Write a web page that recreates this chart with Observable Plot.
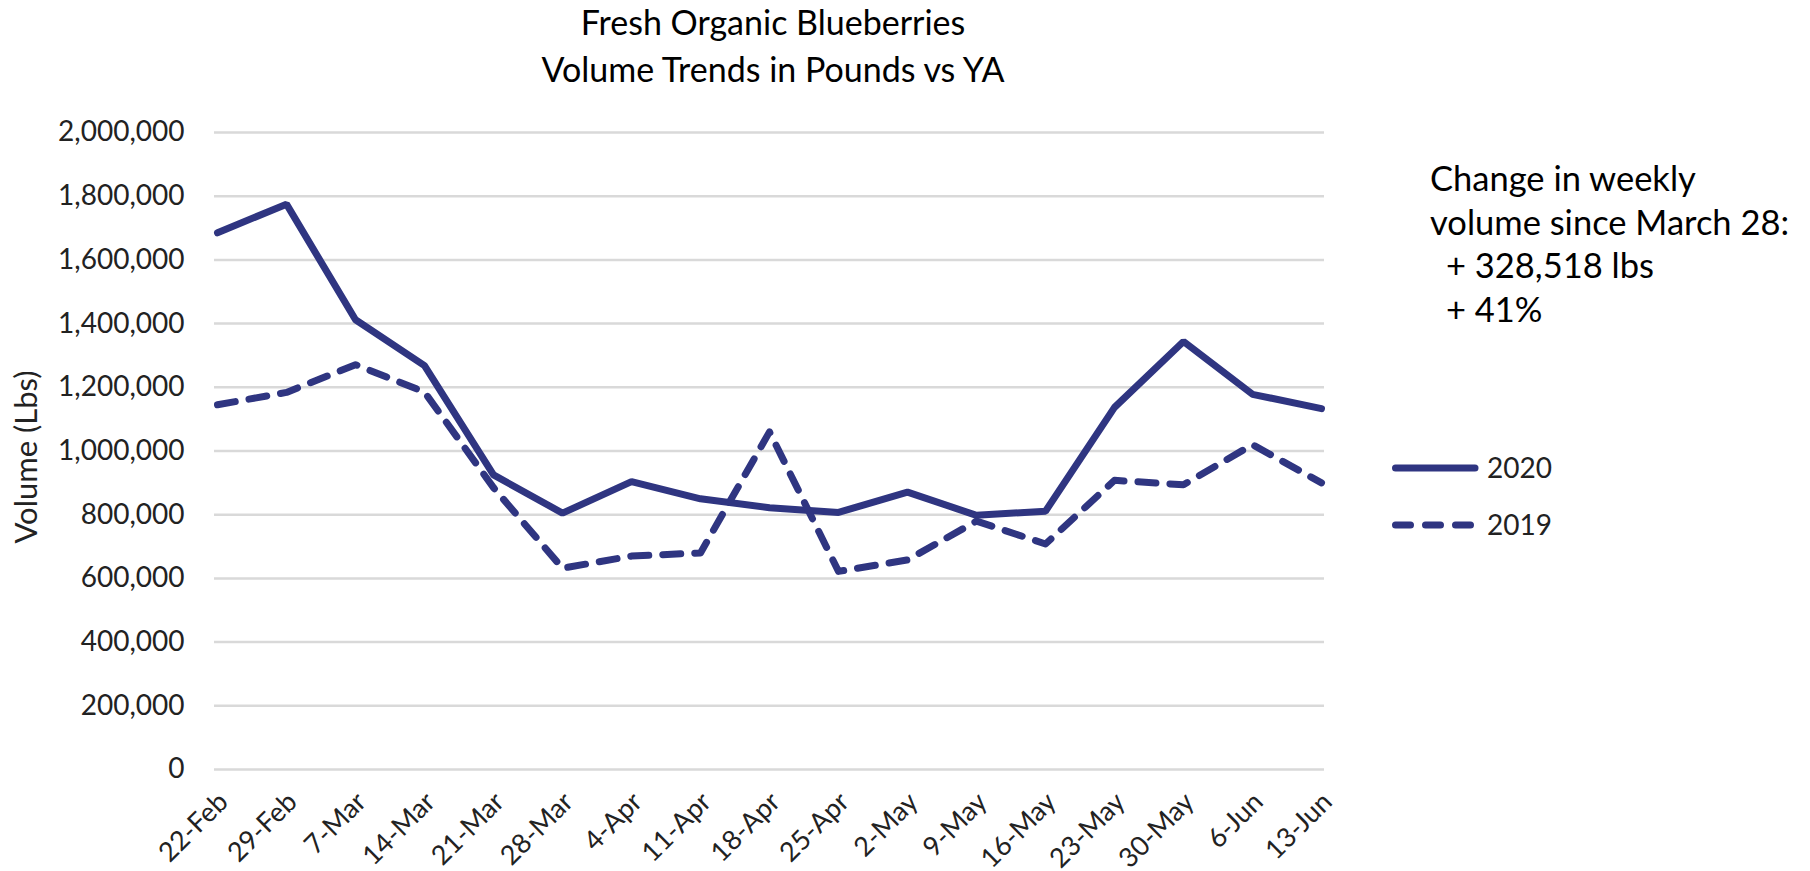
<!DOCTYPE html>
<html>
<head>
<meta charset="utf-8">
<script src="https://cdn.jsdelivr.net/npm/d3@7"></script>
<script src="https://cdn.jsdelivr.net/npm/@observablehq/plot@0.6"></script>
<style>
  html, body { margin: 0; padding: 0; background: #fff; }
  #chart { position: relative; width: 1810px; height: 871px; }
</style>
</head>
<body>
<div id="chart"></div>
<script>
// ---- data ----
const weeks = ["22-Feb","29-Feb","7-Mar","14-Mar","21-Mar","28-Mar","4-Apr","11-Apr","18-Apr","25-Apr","2-May","9-May","16-May","23-May","30-May","6-Jun","13-Jun"];
const volume2020 = [1685000,1775000,1412000,1268000,925000,805000,904000,850000,822000,807000,871000,798000,811000,1137000,1344000,1178000,1133000];
const volume2019 = [1145000,1184000,1271000,1185000,885000,632000,670000,680000,1060000,622000,658000,780000,708000,908000,894000,1020000,900000];
const yTicks = [0,200000,400000,600000,800000,1000000,1200000,1400000,1600000,1800000,2000000];
const seriesNames = ["2020","2019"];
const titleLines = ["Fresh Organic Blueberries","Volume Trends in Pounds vs YA"];
const yLabel = "Volume (Lbs)";
const noteLines = ["Change in weekly","volume since March 28:","+ 328,518 lbs","+ 41%"];

const color = "#2f3581";
const font = "Lato, 'Noto Sans', sans-serif";

const rows2020 = weeks.map((w, i) => ({week: w, value: volume2020[i]}));
const rows2019 = weeks.map((w, i) => ({week: w, value: volume2019[i]}));

const chart = Plot.plot({
  width: 1810,
  height: 871,
  marginTop: 132,
  marginBottom: 102,
  marginLeft: 217,
  marginRight: 489,
  style: {fontFamily: font, fontSize: "28px", color: "#222", background: "transparent", overflow: "visible"},
  x: {type: "point", domain: weeks, padding: 0, label: null},
  y: {domain: [0, 2000000], label: null},
  marks: [
    Plot.ruleY(yTicks, {stroke: "#d9d9d9", strokeWidth: 2.5, insetLeft: -3, insetRight: -3}),
    Plot.axisY({ticks: yTicks, tickFormat: d3.format(","), tickSize: 0, tickPadding: 33, fontSize: 28, label: null}),
    Plot.axisX({tickSize: 0, tickRotate: -45, tickPadding: 28, dx: 6, fontSize: 27, label: null}),
    Plot.line(rows2020, {x: "week", y: "value", stroke: color, strokeWidth: 7, strokeLinejoin: "miter", strokeLinecap: "round"}),
    Plot.line(rows2019, {x: "week", y: "value", stroke: color, strokeWidth: 7, strokeDasharray: "18,14", strokeLinejoin: "round", strokeLinecap: "round"})
  ]
});
document.getElementById("chart").appendChild(chart);

const svg = d3.select(chart);
const g = svg.append("g").attr("font-family", font).attr("text-anchor", "start");

// Title
g.selectAll("text.title").data(titleLines).join("text")
  .attr("class", "title")
  .attr("x", 773)
  .attr("y", (d, i) => 35 + i * 47)
  .attr("text-anchor", "middle")
  .attr("font-size", 34)
  .attr("fill", "#000")
  .text(d => d);

// Y axis label
g.append("text")
  .attr("transform", "translate(37,457) rotate(-90)")
  .attr("text-anchor", "middle")
  .attr("font-size", 31)
  .attr("fill", "#222")
  .text(yLabel);

// Annotation
const noteY = [191, 235, 278, 322];
g.selectAll("text.note").data(noteLines).join("text")
  .attr("class", "note")
  .attr("x", (d, i) => i < 2 ? 1430 : 1446)
  .attr("y", (d, i) => noteY[i])
  .attr("text-anchor", "start")
  .attr("font-size", 34.5)
  .attr("fill", "#000")
  .text(d => d);

// Legend
const legY = [468, 525];
const leg = g.selectAll("g.leg").data(seriesNames).join("g").attr("class", "leg");
leg.append("line")
  .attr("x1", 1395.5).attr("x2", (d, i) => i === 0 ? 1475 : 1471)
  .attr("y1", (d, i) => legY[i]).attr("y2", (d, i) => legY[i])
  .attr("stroke", color).attr("stroke-width", 7).attr("stroke-linecap", "round")
  .attr("stroke-dasharray", (d, i) => i === 0 ? null : "15,15");
leg.append("text")
  .attr("x", 1487)
  .attr("y", (d, i) => legY[i] + 9.5)
  .attr("text-anchor", "start")
  .attr("font-size", 28)
  .attr("fill", "#222")
  .text(d => d);
</script>
</body>
</html>
